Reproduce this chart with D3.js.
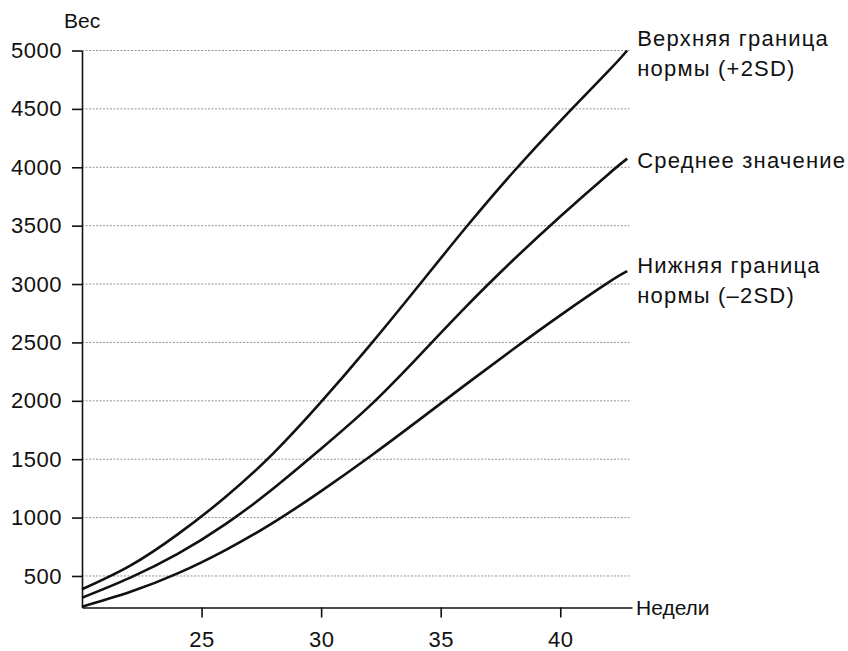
<!DOCTYPE html>
<html>
<head>
<meta charset="utf-8">
<script src="https://cdn.jsdelivr.net/npm/d3@7"></script>
<style>
  body { margin: 0; background: #fff; }
  text { font-family: "Liberation Sans", Arial, sans-serif; fill: #111; }
  .grid line { stroke: #888; stroke-width: 0.9; stroke-dasharray: 2,1.5; }
  .axis path, .axis line { stroke: #111; stroke-width: 1.6; }
  .curve { fill: none; stroke: #111; stroke-width: 2.6; stroke-linejoin: round; }
</style>
</head>
<body>
<svg id="chart" width="848" height="651"></svg>
<script>
// weeks of gestation and fetal weight (g)
var weeks = [20, 22, 24, 26, 28, 30, 32, 34, 36, 38, 40, 42, 42.8];
var upperValues = [386, 586, 856, 1176, 1550, 1990, 2466, 2966, 3471, 3951, 4396, 4821, 5000];
var meanValues = [314, 484, 689, 944, 1249, 1590, 1950, 2364, 2794, 3199, 3579, 3939, 4074];
var lowerValues = [237, 362, 522, 722, 957, 1227, 1517, 1822, 2132, 2437, 2732, 3012, 3110];

var seriesLabels = [
  ["Верхняя граница", "нормы (+2SD)"],
  ["Среднее значение"],
  ["Нижняя граница", "нормы (–2SD)"]
];
var yTicks = [500, 1000, 1500, 2000, 2500, 3000, 3500, 4000, 4500, 5000];
var xTicks = [25, 30, 35, 40];
var yTitle = "Вес";
var xTitle = "Недели";

var svg = d3.select("#chart");
var fontSize = 21;

var x = d3.scaleLinear().domain([20, 43]).range([82, 632]);
var y = d3.scaleLinear().domain([230, 5000]).range([607.5, 50.5]);

// dotted horizontal grid
svg.append("g").attr("class", "grid")
  .selectAll("line").data(yTicks).enter().append("line")
  .attr("x1", x(20)).attr("x2", x(42.9))
  .attr("y1", function(d) { return y(d); })
  .attr("y2", function(d) { return y(d); });

svg.append("g").attr("class", "axis")
  .attr("transform", "translate(" + x(20) + ",0)")
  .call(d3.axisLeft(y).tickValues(yTicks).tickFormat(d3.format("d"))
    .tickSize(10).tickSizeOuter(0).tickPadding(10));

svg.append("g").attr("class", "axis")
  .attr("transform", "translate(0," + y(230) + ")")
  .call(d3.axisBottom(x).tickValues(xTicks).tickFormat(d3.format("d"))
    .tickSize(10).tickSizeOuter(0).tickPadding(14));

svg.selectAll(".axis text")
  .style("font-family", '"Liberation Sans", Arial, sans-serif')
  .style("font-size", "22px")
  .style("letter-spacing", "0.5px")
  .attr("fill", "#111");

svg.append("text")
  .attr("x", 64).attr("y", 28)
  .style("font-size", fontSize + "px")
  .text(yTitle);

svg.append("text")
  .attr("x", x(43) + 4).attr("y", y(230) + 7)
  .style("font-size", fontSize + "px")
  .text(xTitle);

var line = d3.line()
  .x(function(d) { return x(d.w); })
  .y(function(d) { return y(d.v); })
  .curve(d3.curveNatural);

var series = [upperValues, meanValues, lowerValues].map(function(vals) {
  return weeks.map(function(w, i) { return { w: w, v: vals[i] }; });
});

svg.selectAll(".curve").data(series).enter().append("path")
  .attr("class", "curve")
  .attr("d", line);

// labels at the right end of each curve
var firstBaseline = [-5, 9, 2];
var lineGap = 30;
series.forEach(function(s, i) {
  var last = s[s.length - 1];
  var t = svg.append("text")
    .attr("x", x(last.w) + 10)
    .attr("y", y(last.v) + firstBaseline[i])
    .style("font-size", "22px")
    .style("letter-spacing", "1.2px");
  seriesLabels[i].forEach(function(str, j) {
    t.append("tspan")
      .attr("x", x(last.w) + 10)
      .attr("dy", j === 0 ? 0 : lineGap)
      .text(str);
  });
});
</script>
</body>
</html>
